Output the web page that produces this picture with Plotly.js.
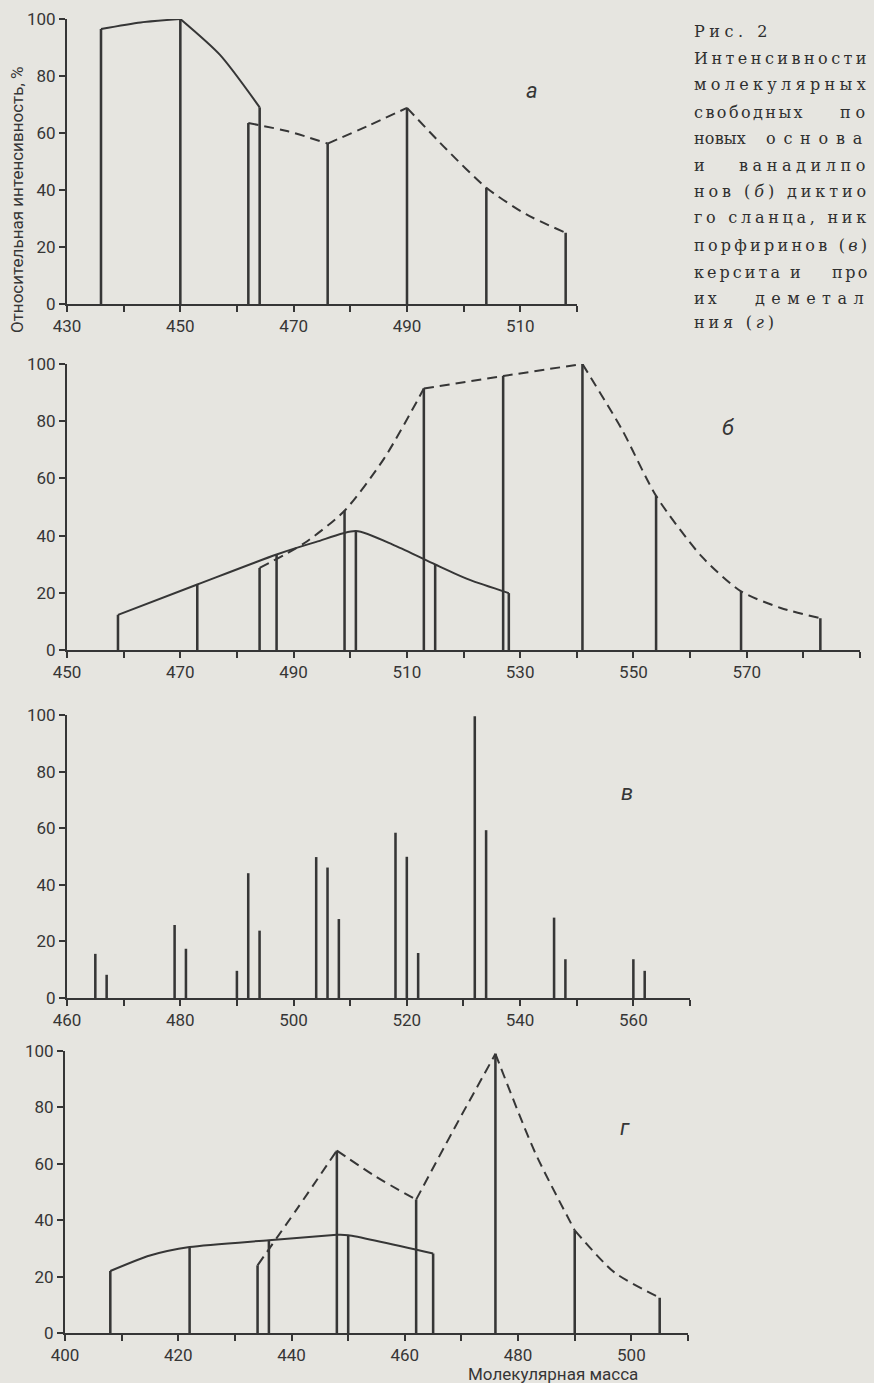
<!DOCTYPE html>
<html>
<head>
<meta charset="utf-8">
<script src="https://cdn.plot.ly/plotly-3.0.1.min.js"></script>
<style>
html,body{margin:0;padding:0;background:#e6e5e0;}
#chart{width:874px;height:1383px;}
</style>
</head>
<body>
<div id="chart"></div>
<script>
// ---------- Panel а ----------
const aBarX = [436, 450, 462, 464, 476, 490, 504, 518];
const aBarY = [96.5, 100, 63.5, 69, 56.3, 68.8, 40.8, 25];
const aSolidX = [436, 443, 450, null, 450, 457, 464];
const aSolidY = [96.5, 98.8, 100, null, 100, 87.4, 69];
const aDashX = [462, 469, 476, null, 476, 483, 490, null, 490, 497, 504, 511, 518];
const aDashY = [63.5, 60.6, 56.3, null, 56.3, 62.4, 68.8, null, 68.8, 54.2, 40.8, 31.5, 25];

// ---------- Panel б ----------
const bBarX = [459, 473, 484, 487, 499, 501, 513, 515, 527, 528, 541, 554, 569, 583];
const bBarY = [12.3, 22.9, 28.7, 33.4, 48.7, 41.6, 91.4, 29.9, 95.8, 19.9, 100, 53.9, 20.5, 11.1];
const bSolidX = [459, 473, 487, 494, 501, 508, 515, 521, 528];
const bSolidY = [12.3, 22.9, 33.4, 37.8, 41.6, 36.4, 29.9, 24.6, 19.9];
const bDashX = [484, 492, 499, 506, 513, null, 513, 527, 541, null, 541, 548, 554, 562, 569, 576, 583];
const bDashY = [28.7, 37.5, 48.7, 67, 91.4, null, 91.4, 95.8, 100, null, 100, 77, 53.9, 32.8, 20.5, 14.7, 11.1];

// ---------- Panel в ----------
const cBarX = [465, 467, 479, 481, 490, 492, 494, 504, 506, 508, 518, 520, 522, 532, 534, 546, 548, 560, 562];
const cBarY = [15.6, 8.2, 25.8, 17.4, 9.6, 44.1, 23.8, 49.8, 46.1, 27.9, 58.4, 49.9, 15.9, 99.6, 59.3, 28.4, 13.7, 13.7, 9.6];

// ---------- Panel г ----------
const dBarX = [408, 422, 434, 436, 448, 450, 462, 465, 476, 490, 505];
const dBarY = [22, 30.5, 24, 32.9, 64.7, 34.7, 47.3, 28.2, 99, 36.4, 12.5];
const dSolidX = [408, 415, 422, 436, 448, null, 448, 450, 465];
const dSolidY = [22, 27.5, 30.5, 32.9, 34.8, null, 34.8, 34.7, 28.2];
const dDashX = [434, 441, 448, null, 448, 455, 462, null, 462, 469, 476, null, 476, 483, 490, null, 490, 497, 505];
const dDashY = [24, 44.1, 64.7, null, 64.7, 55.3, 47.3, null, 47.3, 73.5, 99, null, 99, 64, 36.4, null, 36.4, 21.5, 12.5];

// axis ticks & texts
const yTicks = [0, 20, 40, 60, 80, 100];
const panelLetters = ['а', 'б', 'в', 'г'];
const yTitle = 'Относительная интенсивность, %';
const xTitle = 'Молекулярная масса';
const captionLines = [
  ['Рис. 2'],
  ['Интенсивности'],
  ['молекулярных'],
  ['свободных', 'по'],
  ['новых', 'основа'],
  ['и', 'ванадилпо'],
  ['нов (<i>б</i>) диктио'],
  ['го сланца, ник'],
  ['порфиринов (<i>в</i>)'],
  ['керсита', 'и', 'про'],
  ['их', 'деметал'],
  ['ния (<i>г</i>)']
];

// ---------- layout geometry (pixels) ----------
const W = 874, H = 1383;
const INK = '#363636';
const SANS = 'Roboto, "DejaVu Sans", sans-serif';
const TICKFONT = {family: SANS, size: 17, color: INK};
const panels = [
  {xr: [430, 520], lab0: 430, px: [67, 577], py: [19, 304]},
  {xr: [450, 590], lab0: 450, px: [67, 860], py: [364, 650]},
  {xr: [460, 570], lab0: 460, px: [67, 690], py: [715, 998]},
  {xr: [400, 510], lab0: 400, px: [65, 688], py: [1051, 1333]}
];

const layout = {
  width: W, height: H, autosize: false,
  margin: {l: 0, r: 0, t: 0, b: 0, pad: 0},
  paper_bgcolor: '#e6e5e0', plot_bgcolor: 'rgba(0,0,0,0)',
  showlegend: false, hovermode: false, barmode: 'overlay',
  annotations: []
};

panels.forEach((p, i) => {
  const n = i === 0 ? '' : String(i + 1);
  const tv = [], tt = [];
  for (let v = p.xr[0]; v <= p.xr[1]; v += 10) {
    tv.push(v);
    tt.push(((v - p.lab0) % 20 === 0) ? String(v) : '');
  }
  layout['xaxis' + n] = {
    domain: [p.px[0] / W, p.px[1] / W], anchor: 'y' + n,
    range: p.xr, showgrid: false, zeroline: false,
    showline: true, linecolor: INK, linewidth: 2,
    ticks: 'outside', ticklen: 6, tickwidth: 2, tickcolor: INK,
    tickmode: 'array', tickvals: tv, ticktext: tt, tickfont: TICKFONT,
    fixedrange: true
  };
  layout['yaxis' + n] = {
    domain: [1 - p.py[1] / H, 1 - p.py[0] / H], anchor: 'x' + n,
    range: [0, 100], showgrid: false, zeroline: false,
    showline: true, linecolor: INK, linewidth: 2,
    ticks: 'outside', ticklen: 6, tickwidth: 2, tickcolor: INK,
    tickmode: 'array', tickvals: yTicks, ticktext: yTicks.map(String), tickfont: TICKFONT,
    fixedrange: true
  };
});

function bars(x, y, n) {
  return {type: 'bar', x: x, y: y, xaxis: 'x' + n, yaxis: 'y' + n, width: 0.45,
    marker: {color: INK, line: {width: 0}}, hoverinfo: 'skip', showlegend: false};
}
function curve(x, y, n, dash) {
  return {type: 'scatter', mode: 'lines', x: x, y: y, xaxis: 'x' + n, yaxis: 'y' + n,
    line: {color: INK, width: 2, shape: 'spline', smoothing: 0.7, dash: dash || 'solid'},
    connectgaps: false, cliponaxis: false, hoverinfo: 'skip', showlegend: false};
}
const DASH = '10px,6px';
const traces = [
  bars(aBarX, aBarY, ''), curve(aSolidX, aSolidY, ''), curve(aDashX, aDashY, '', DASH),
  bars(bBarX, bBarY, '2'), curve(bSolidX, bSolidY, '2'), curve(bDashX, bDashY, '2', DASH),
  bars(cBarX, cBarY, '3'),
  bars(dBarX, dBarY, '4'), curve(dSolidX, dSolidY, '4'), curve(dDashX, dDashY, '4', DASH)
];

function ann(text, px, py, opts) {
  return Object.assign({
    text: text, xref: 'paper', yref: 'paper', x: px / W, y: 1 - py / H,
    showarrow: false, xanchor: 'center', yanchor: 'middle',
    font: {family: SANS, size: 17, color: INK}
  }, opts || {});
}

// panel letters
const letterPos = [[532, 91], [728, 427], [627, 793], [625, 1127]];
panelLetters.forEach((L, i) => {
  layout.annotations.push(ann('<i>' + L + '</i>', letterPos[i][0], letterPos[i][1],
    {font: {family: SANS, size: 22, color: INK}}));
});
// axis titles
layout.annotations.push(ann(yTitle, 17, 200, {textangle: -90}));
layout.annotations.push(ann(xTitle, 553, 1374));

// caption: each word placed at its start/end pixel span (justified by letter spacing)
const CAP_FAMILY = '"DejaVu Serif", "Liberation Serif", serif';
const CAP_SIZE = 16;
const capY = [32, 59, 85, 112, 138, 165, 192, 218, 245, 272, 298, 322];
const capSpans = {
  0: [[692, 770]], 1: [[692, 868]], 2: [[692, 868]], 3: [[692, 803], [838, 868]],
  4: [[692, 744], [764, 868]], 5: [[692, 703], [737, 868]], 6: [[692, 868]],
  7: [[692, 868]], 8: [[692, 868]], 9: [[692, 781], [788, 800], [830, 868]],
  10: [[692, 718], [753, 868]], 11: [[692, 776]]
};
const NS = 'http://www.w3.org/2000/svg';
const msvg = document.createElementNS(NS, 'svg');
msvg.setAttribute('width', '10'); msvg.setAttribute('height', '10');
msvg.style.position = 'absolute'; msvg.style.left = '-2000px';
document.body.appendChild(msvg);
function measure(txt) {
  const t = document.createElementNS(NS, 'text');
  t.setAttribute('style', 'font-family:' + CAP_FAMILY + ';font-size:' + CAP_SIZE + 'px');
  t.textContent = txt;
  msvg.appendChild(t);
  const w = t.getComputedTextLength();
  msvg.removeChild(t);
  return w;
}
captionLines.forEach((words, i) => {
  words.forEach((w, j) => {
    const span = capSpans[i][j];
    const plain = w.replace(/<\/?i>/g, '').replace(/ /g, '\u00a0');
    const n = plain.length;
    const natural = measure(plain);
    let ls = n > 1 ? ((span[1] - span[0]) - natural) / n : 0;
    ls = Math.max(-0.5, ls).toFixed(2);
    const SP = 'letter-spacing:' + ls + 'px';
    const html = w.split(/(<i>.*?<\/i>)/).filter(s => s.length).map(s => {
      if (s.startsWith('<i>')) return '<span style="' + SP + ';font-style:italic">' + s.slice(3, -4) + '</span>';
      return '<span style="' + SP + '">' + s.replace(/ /g, '\u00a0') + '</span>';
    }).join('');
    layout.annotations.push(ann(html, span[0], capY[i], {
      xanchor: 'left',
      font: {family: CAP_FAMILY, size: CAP_SIZE, color: '#2f2f2f'}
    }));
  });
});
document.body.removeChild(msvg);

Plotly.newPlot('chart', traces, layout, {staticPlot: true, displayModeBar: false});
</script>
</body>
</html>
